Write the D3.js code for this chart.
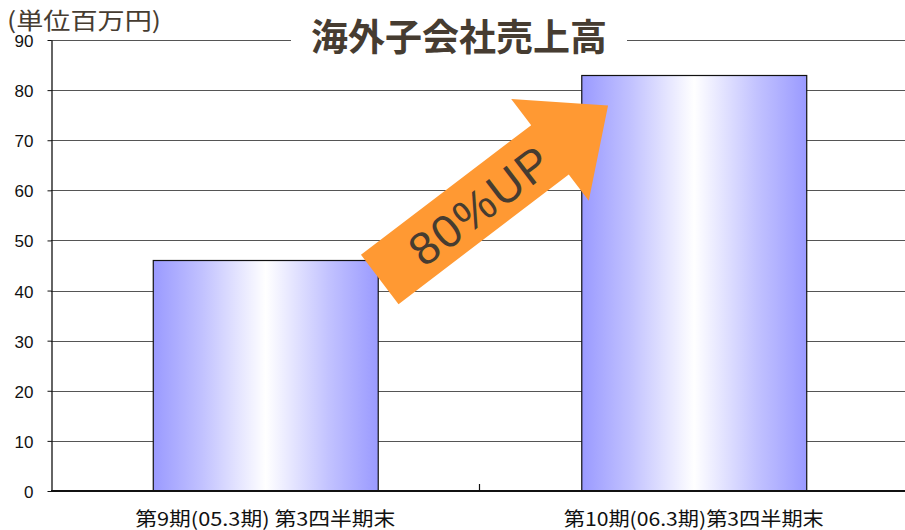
<!DOCTYPE html>
<html>
<head>
<meta charset="utf-8">
<script src="https://cdn.jsdelivr.net/npm/d3@7"></script>
<style>
  body { margin: 0; background: #fff; }
  svg { display: block; }
</style>
</head>
<body>
<svg id="chart" width="905" height="530"></svg>
<script>
// chart data
const categories = ["第9期(05.3期) 第3四半期末", "第10期(06.3期)第3四半期末"];
const sales = [46, 83];
const yTicks = [0, 10, 20, 30, 40, 50, 60, 70, 80, 90];
const title = "海外子会社売上高";
const unitLabel = "(単位百万円)";
const arrowLabel = "80%UP";

const W = 905, H = 530;
const margin = {top: 40, right: -3, bottom: 39, left: 51};
const jp = "'Noto Sans CJK JP', 'Noto Sans', sans-serif";
const textColor = "#463c31";

const svg = d3.select("#chart");

const x = d3.scaleBand()
    .domain(categories)
    .range([margin.left, W - margin.right])
    .paddingInner(0.475)
    .paddingOuter(0.2375);

const y = d3.scaleLinear()
    .domain([0, 90])
    .range([H - margin.bottom, margin.top]);

// bar gradient
const grad = svg.append("defs")
    .append("linearGradient")
    .attr("id", "barFill")
    .attr("x1", "0%").attr("x2", "100%")
    .attr("y1", "0%").attr("y2", "0%");
grad.append("stop").attr("offset", "0%").attr("stop-color", "#9a9aff");
grad.append("stop").attr("offset", "22%").attr("stop-color", "#c2c2ff");
grad.append("stop").attr("offset", "50%").attr("stop-color", "#ffffff");
grad.append("stop").attr("offset", "78%").attr("stop-color", "#c2c2ff");
grad.append("stop").attr("offset", "100%").attr("stop-color", "#9a9aff");

// gridlines (skip zero, the axis covers it)
svg.append("g")
    .attr("class", "grid")
    .selectAll("line")
    .data(yTicks.filter(d => d > 0))
    .join("line")
    .attr("x1", margin.left)
    .attr("x2", W)
    .attr("y1", d => Math.round(y(d)) + 0.5)
    .attr("y2", d => Math.round(y(d)) + 0.5)
    .attr("stroke", "#555")
    .attr("stroke-width", 1.2);

// bars
svg.append("g")
    .attr("class", "bars")
    .selectAll("rect")
    .data(sales)
    .join("rect")
    .attr("x", (d, i) => x(categories[i]) + 0.5)
    .attr("y", d => Math.round(y(d)) + 0.5)
    .attr("width", x.bandwidth())
    .attr("height", d => y(0) - Math.round(y(d)) - 0.5)
    .attr("fill", "url(#barFill)")
    .attr("stroke", "#111")
    .attr("stroke-width", 1.2);

// y axis
const yAxis = svg.append("g")
    .attr("transform", `translate(${margin.left + 0.5},0)`)
    .call(d3.axisLeft(y).tickValues(yTicks).tickSize(4).tickPadding(14).tickSizeOuter(0));
yAxis.select(".domain").attr("stroke", "#111").attr("stroke-width", 1.3);
yAxis.selectAll(".tick line").attr("stroke", "#111");
yAxis.selectAll(".tick text")
    .attr("font-family", "'Liberation Sans', Arial, sans-serif")
    .attr("font-size", 17)
    .attr("fill", "#111")
    .attr("dy", "0.38em");

// x axis: baseline plus a divider tick between categories
const baseY = y(0);
svg.append("line")
    .attr("x1", margin.left).attr("x2", W)
    .attr("y1", baseY).attr("y2", baseY)
    .attr("stroke", "#111").attr("stroke-width", 2);
const midX = (x(categories[0]) + x.bandwidth() + x(categories[1])) / 2;
svg.append("line")
    .attr("x1", midX).attr("x2", midX)
    .attr("y1", baseY).attr("y2", baseY - 7)
    .attr("stroke", "#111").attr("stroke-width", 1.2);

svg.append("g")
    .attr("class", "xlabels")
    .selectAll("text")
    .data(categories)
    .join("text")
    .attr("x", d => x(d) + x.bandwidth() / 2)
    .attr("y", 526)
    .attr("text-anchor", "middle")
    .attr("font-family", jp)
    .attr("font-size", 19)
    .attr("fill", "#111")
    .attr("textLength", 260)
    .attr("lengthAdjust", "spacingAndGlyphs")
    .text(d => d);

// title sitting on the top gridline
svg.append("rect")
    .attr("x", 291).attr("y", 20)
    .attr("width", 336).attr("height", 40)
    .attr("fill", "#fff");
svg.append("text")
    .attr("x", 459)
    .attr("y", 51)
    .attr("text-anchor", "middle")
    .attr("font-family", jp)
    .attr("font-weight", "bold")
    .attr("font-size", 37)
    .attr("fill", textColor)
    .text(title);

// unit label
svg.append("text")
    .attr("x", 7)
    .attr("y", 29)
    .attr("font-family", jp)
    .attr("font-size", 23)
    .attr("fill", textColor)
    .attr("textLength", 154)
    .attr("lengthAdjust", "spacingAndGlyphs")
    .text(unitLabel);

// growth arrow between the two bars
const ax0 = x(categories[0]) + x.bandwidth();
const ax1 = x(categories[1]);
const arrow = svg.append("g")
    .attr("transform", `translate(${(ax0 + ax1) / 2 + 14},${y(59.5)}) rotate(-37.3)`);
arrow.append("path")
    .attr("d", "M-143,-31 L71,-31 L71,-64 L144,0 L71,64 L71,31 L-143,31 Z")
    .attr("fill", "#ff9933");
arrow.append("text")
    .attr("x", -18)
    .attr("y", 18)
    .attr("text-anchor", "middle")
    .attr("font-family", "'Liberation Sans', Arial, sans-serif")
    .attr("font-size", 46)
    .attr("fill", textColor)
    .attr("letter-spacing", 2)
    .text(arrowLabel);
</script>
</body>
</html>
